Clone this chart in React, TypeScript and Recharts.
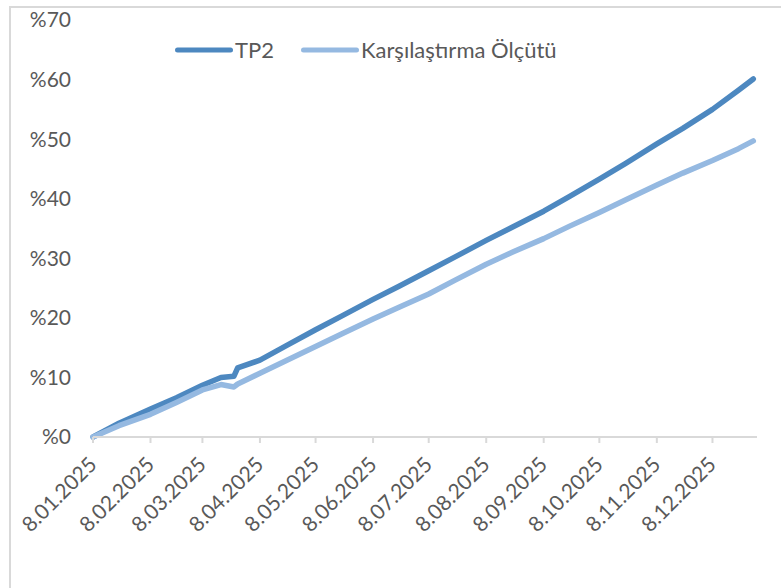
import React from 'react';
import { LineChart, Line, XAxis, YAxis, Legend } from 'recharts';

// readings taken off the chart, cumulative return in %
const dates = [
  '2025-01-08', '2025-01-22', '2025-02-08', '2025-02-22', '2025-03-08', '2025-03-18',
  '2025-03-25', '2025-03-27', '2025-04-08', '2025-04-22', '2025-05-08', '2025-05-22',
  '2025-06-08', '2025-06-22', '2025-07-08', '2025-07-22', '2025-08-08', '2025-08-22',
  '2025-09-08', '2025-09-22', '2025-10-08', '2025-10-22', '2025-11-08', '2025-11-22',
  '2025-12-08', '2025-12-22', '2025-12-30',
];
const tp2 = [
  0, 2.3, 4.7, 6.6, 8.7, 10.0, 10.2, 11.6, 12.9, 15.3, 18.0, 20.3, 23.1, 25.3,
  27.9, 30.2, 33.0, 35.2, 37.9, 40.4, 43.3, 45.9, 49.2, 51.8, 55.0, 58.2, 60.1,
];
const benchmark = [
  0, 1.9, 3.8, 5.8, 7.9, 8.8, 8.4, 8.9, 10.7, 12.8, 15.2, 17.3, 19.8, 21.8,
  24.0, 26.3, 29.0, 31.0, 33.3, 35.4, 37.7, 39.8, 42.3, 44.3, 46.4, 48.4, 49.7,
];
const tickDates = [
  '2025-01-08', '2025-02-08', '2025-03-08', '2025-04-08', '2025-05-08', '2025-06-08',
  '2025-07-08', '2025-08-08', '2025-09-08', '2025-10-08', '2025-11-08', '2025-12-08',
];
const yTicks = [0, 10, 20, 30, 40, 50, 60, 70];
const seriesNames = ['TP2', 'Karşılaştırma Ölçütü'];

const toTime = (d: string) => Date.parse(`${d}T00:00:00Z`);

const data = dates.map((d, i) => ({ t: toTime(d), tp2: tp2[i], bench: benchmark[i] }));
const xTicks = tickDates.map(toTime);
const xDomain = [toTime('2025-01-08'), toTime('2026-01-01')];

const textColor = '#595959';
const axisColor = '#d9d9d9';

const formatDate = (v: number) => {
  const d = new Date(v);
  return `${d.getUTCDate()}.${String(d.getUTCMonth() + 1).padStart(2, '0')}.${d.getUTCFullYear()}`;
};

const DateTick = ({ x, y, payload }: any) => (
  <g transform={`translate(${x + 5},${y + 21}) rotate(-45)`}>
    <text x={0} y={0} textAnchor="end" fill={textColor} fontSize={21}>
      {formatDate(payload.value)}
    </text>
  </g>
);

const renderLegend = ({ payload }: any) => {
  const items = [...payload].sort((a: any, b: any) => seriesNames.indexOf(a.value) - seriesNames.indexOf(b.value));
  return (
    <div style={{ display: 'flex', alignItems: 'center' }}>
      {items.map((p: any) => (
        <div key={p.value} style={{ display: 'flex', alignItems: 'center', marginRight: 27 }}>
          <svg width={58} height={10}>
            <line x1={2.5} y1={5} x2={55.5} y2={5} stroke={p.color} strokeWidth={5} strokeLinecap="round" />
          </svg>
          <span style={{ marginLeft: 2, fontSize: 22, color: textColor, lineHeight: '26px' }}>{p.value}</span>
        </div>
      ))}
    </div>
  );
};

const App = () => (
  <div style={{ position: 'fixed', left: 0, top: 0, width: 781, height: 588, overflow: 'hidden', background: '#fff', fontFamily: 'Lato' }}>
    <div style={{ position: 'absolute', left: 9, top: 6, width: 820, height: 640, border: `2px solid ${axisColor}` }} />
    <div style={{ position: 'absolute', left: 0, top: 0 }}>
      <LineChart width={781} height={588} data={data} margin={{ top: 20, right: 24, bottom: 31, left: 0 }}>
        <XAxis
          dataKey="t"
          type="number"
          scale="time"
          domain={xDomain}
          ticks={xTicks}
          interval={0}
          height={120}
          tick={<DateTick />}
          tickSize={6}
          stroke={axisColor}
          strokeWidth={2}
        />
        <YAxis
          domain={[0, 70]}
          ticks={yTicks}
          width={93}
          axisLine={false}
          tickLine={false}
          tickSize={6}
          tickMargin={16}
          tickFormatter={(v: number) => `%${v}`}
          tick={{ fill: textColor, fontSize: 21 }}
        />
        <Legend
          layout="horizontal"
          verticalAlign="middle"
          align="center"
          content={renderLegend}
          wrapperStyle={{ top: 37, left: 175, width: 'auto' }}
        />
        <Line
          type="linear"
          dataKey="tp2"
          name="TP2"
          stroke="#4d88c0"
          strokeWidth={5.5}
          strokeLinejoin="round"
          strokeLinecap="round"
          dot={false}
          isAnimationActive={false}
        />
        <Line
          type="linear"
          dataKey="bench"
          name="Karşılaştırma Ölçütü"
          stroke="#95b9e1"
          strokeWidth={5.5}
          strokeLinejoin="round"
          strokeLinecap="round"
          dot={false}
          isAnimationActive={false}
        />
      </LineChart>
    </div>
  </div>
);

export default App;
